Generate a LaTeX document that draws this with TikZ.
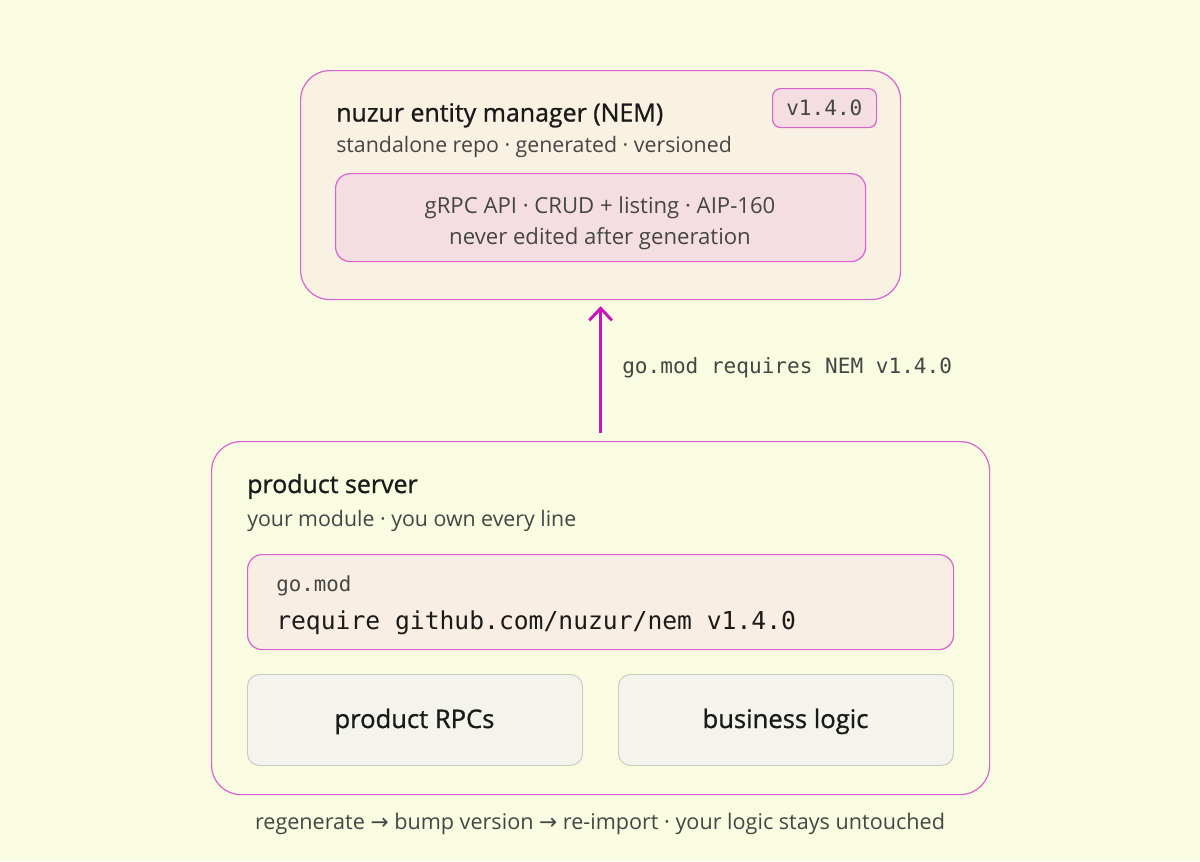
\documentclass[tikz,border=0pt]{standalone}
\usepackage{fontspec}
\setmainfont{Open Sans}
\setmonofont{DejaVu Sans Mono}
\newfontfamily\symbolfont{DejaVu Sans}
\usetikzlibrary{positioning,arrows.meta}
\usepackage{xcolor}

\definecolor{bgyellow}{HTML}{F9FCE0}
\definecolor{nemfill}{HTML}{F9F1E1}
\definecolor{magline}{HTML}{DA62D0}
\definecolor{apifill}{HTML}{F5DEE2}
\definecolor{arrowmag}{HTML}{C915B9}
\definecolor{gomodfill}{HTML}{F9EEE3}
\definecolor{grayfill}{HTML}{F4F3EC}
\definecolor{grayline}{HTML}{C9CAC0}
\definecolor{textdark}{HTML}{1A1A1A}
\definecolor{textgray}{HTML}{454545}

\newcommand{\medium}{\addfontfeatures{FakeBold=1}}
\newcommand{\rarr}{{\symbolfont →}}

\begin{document}
\begin{tikzpicture}[
    x=0.75pt, y=-0.75pt,
    box/.style={draw=magline, line width=0.9pt, anchor=north west, inner sep=0pt},
    outerbox/.style={box, rounded corners=22pt},
    innerbox/.style={box, rounded corners=11pt},
    partbox/.style={draw=grayline, fill=grayfill, line width=0.7pt, anchor=north west, inner sep=0pt, rounded corners=9pt, minimum width=251.25pt, minimum height=68.25pt},
    title/.style={anchor=base west, inner sep=0pt, font=\fontsize{18.7}{22}\selectfont\medium, text=textdark},
    subtitle/.style={anchor=base west, inner sep=0pt, font=\fontsize{16}{19}\selectfont, text=textgray},
    partlabel/.style={anchor=base, inner sep=0pt, font=\fontsize{19.2}{22}\selectfont\medium, text=textdark},
    code/.style={anchor=base west, inner sep=0pt, font=\ttfamily, text=textgray},
    arrow/.style={line width=2.2pt, draw=arrowmag, -{Straight Barb[length=9pt,width=17pt]}}
]
  % Canvas
  \fill[bgyellow] (0,0) rectangle (1200,861);

  % NEM
  \node (nem) [outerbox, fill=nemfill, minimum width=450pt, minimum height=171.75pt] at (300,70) {};
  \node (version) [box, fill=apifill, rounded corners=6pt, minimum width=78pt, minimum height=29.25pt] at (772,88) {};
  \node [code, font=\ttfamily\fontsize{15.8}{18}\selectfont] at (786,115) {v1.4.0};
  \node (nemtitle) [title] at (336,121.5) {nuzur entity manager (NEM)};
  \node (nemsub) [subtitle] at (336,152) {standalone repo · generated · versioned};
  \node (api) [innerbox, fill=apifill, minimum width=397.5pt, minimum height=66pt] at (335,173) {};
  \node [anchor=base, inner sep=0pt, font=\fontsize{16.6}{19}\selectfont, text=textgray] at (600,213) {gRPC API · CRUD + listing · AIP-160};
  \node [anchor=base, inner sep=0pt, font=\fontsize{16.6}{19}\selectfont, text=textgray] at (600,244) {never edited after generation};

  % product server
  \node (server) [outerbox, fill=bgyellow, minimum width=583.5pt, minimum height=264.75pt] at (211,441) {};
  \node (servertitle) [title] at (247,493) {product server};
  \node (serversub) [subtitle] at (247,526) {your module · you own every line};
  \node (gomod) [innerbox, fill=gomodfill, minimum width=529.5pt, minimum height=71.25pt] at (247,554) {};
  \node [code, font=\ttfamily\fontsize{15.6}{18}\selectfont] at (276,591) {go.mod};
  \node [code, font=\ttfamily\fontsize{18.5}{22}\selectfont, text=textdark] at (276,629) {require github.com/nuzur/nem v1.4.0};
  \node (rpcs) [partbox] at (247,674) {};
  \node [partlabel] at (414.5,728) {product RPCs};
  \node (logic) [partbox] at (618,674) {};
  \node [partlabel] at (785.5,728) {business logic};

  % Footer
  \node (footer) [anchor=base, inner sep=0pt, font=\fontsize{16.2}{19}\selectfont, text=textgray] at (600,829) {regenerate \rarr{} bump version \rarr{} re-import · your logic stays untouched};

  % Arrows
  \draw [arrow] ([yshift=6pt]server.north) -- ([yshift=-4.5pt]nem.south);
  \node (requires) [code, font=\ttfamily\fontsize{15.8}{18}\selectfont] at (622,373) {go.mod requires NEM v1.4.0};
\end{tikzpicture}
\end{document}
